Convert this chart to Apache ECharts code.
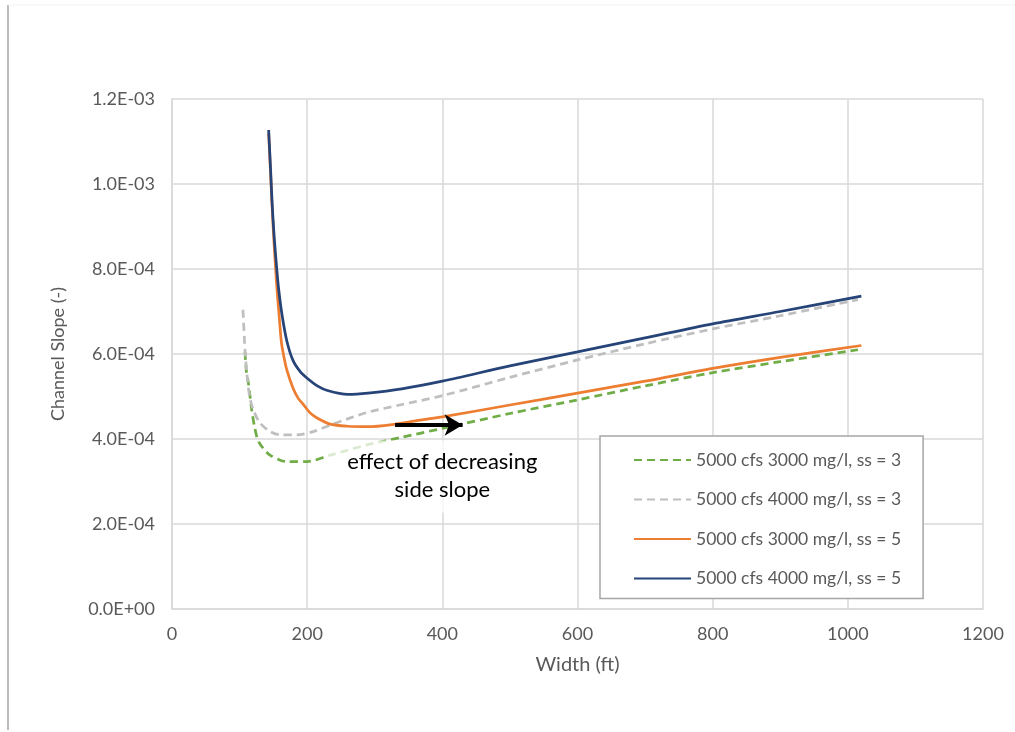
<!DOCTYPE html>
<html><head><meta charset="utf-8">
<script src="https://cdn.jsdelivr.net/npm/echarts@6/dist/echarts.min.js"></script>
<style>html,body{margin:0;padding:0;background:#fff}#c{width:1015px;height:732px}</style>
</head><body><div id="c"></div>
<script>
// Series names
const seriesNames = [
  '5000 cfs 3000 mg/l, ss = 3',
  '5000 cfs 4000 mg/l, ss = 3',
  '5000 cfs 3000 mg/l, ss = 5',
  '5000 cfs 4000 mg/l, ss = 5'
];
// Green dashed: 3000 mg/l, ss=3
const greenW = [108,110,113,118,122,127,135,145,160,170,200,234,288,337,400,500,600,700,800,900,1015];
const greenS = [6.05e-4,5.6e-4,5.32e-4,4.68e-4,4.3e-4,3.98e-4,3.78e-4,3.62e-4,3.5e-4,3.47e-4,3.47e-4,3.62e-4,3.86e-4,4.03e-4,4.25e-4,4.6e-4,4.92e-4,5.25e-4,5.56e-4,5.82e-4,6.1e-4];
// Gray dashed: 4000 mg/l, ss=3
const grayW = [105,107,108,111,115,120,130,145,160,185,210,238,288,337,400,500,600,700,800,900,1015];
const grayS = [7.04e-4,6.4e-4,6.09e-4,5.5e-4,4.99e-4,4.7e-4,4.38e-4,4.18e-4,4.1e-4,4.1e-4,4.18e-4,4.35e-4,4.62e-4,4.8e-4,5.02e-4,5.45e-4,5.86e-4,6.24e-4,6.59e-4,6.9e-4,7.28e-4];
// Orange solid: 3000 mg/l, ss=5
const orangeW = [143,146,148,151,155,158,162,166,170,179,187,194,204,214,234,260,290,330,370,400,500,600,700,800,900,1020];
const orangeS = [1.12e-3,1.02e-3,9.5e-4,8.6e-4,7.6e-4,7.0e-4,6.26e-4,5.9e-4,5.62e-4,5.2e-4,4.95e-4,4.82e-4,4.62e-4,4.5e-4,4.35e-4,4.3e-4,4.29e-4,4.35e-4,4.45e-4,4.52e-4,4.8e-4,5.08e-4,5.36e-4,5.66e-4,5.92e-4,6.2e-4];
// Blue solid: 4000 mg/l, ss=5
const blueW = [143,146,148,151,155,158,163,170,179,190,200,215,230,260,290,340,400,500,600,700,800,900,1020];
const blueS = [1.127e-3,1.03e-3,9.6e-4,8.8e-4,8.0e-4,7.5e-4,6.9e-4,6.3e-4,5.85e-4,5.58e-4,5.43e-4,5.25e-4,5.14e-4,5.05e-4,5.08e-4,5.18e-4,5.36e-4,5.72e-4,6.05e-4,6.38e-4,6.71e-4,7.0e-4,7.36e-4];
// Axis ticks
const xTicks = [0,200,400,600,800,1000,1200];
const yTicks = [0,2e-4,4e-4,6e-4,8e-4,1e-3,1.2e-3];
// Annotation
const annotText = 'effect of decreasing\nside slope';
const arrowFrom = [330, 4.33e-4];
const arrowTo = [430, 4.33e-4];
const annotCenter = [400, 3.12e-4];

function zip(a,b){return a.map((v,i)=>[v,b[i]]);}
function fmtE(v){
  if (v === 0) return '0.0E+00';
  let s = v.toExponential(1); let [m,e] = s.split('e');
  let n = parseInt(e,10); let sign = n<0?'-':'+'; n=Math.abs(n);
  return m + 'E' + sign + (n<10?'0':'') + n;
}
const font = 'Lato, "Open Sans", sans-serif';
const txt = '#595959';
const grid = '#d9d9d9';
const chart = echarts.init(document.getElementById('c'));
const colors = ['#70AD47','#BFBFBF','#ED7D31','#264478'];
const dataSets = [zip(greenW,greenS), zip(grayW,grayS), zip(orangeW,orangeS), zip(blueW,blueS)];
const series = seriesNames.map((n,i)=>({
  name:n, type:'line', data:dataSets[i], symbol:'none', smooth:0.3,
  lineStyle:{color:colors[i], width:2.75, type: i<2 ? [8,5] : 'solid'},
  itemStyle:{color:colors[i]}, z: 2+i
}));
series[2].markLine = {
  silent:true, symbol:['none','arrow'], symbolSize:[16,18],
  label:{show:false},
  lineStyle:{color:'#000', width:4, type:'solid'},
  data:[[{coord:arrowFrom},{coord:arrowTo}]], z:10
};
chart.setOption({
  animation:false,
  backgroundColor:'#fff',
  grid:{left:172, right:32, top:99, bottom:123, containLabel:false},
  xAxis:{type:'value', min:0, max:1200, interval:200,
    name:'Width (ft)', nameLocation:'middle', nameGap:46,
    nameTextStyle:{color:txt, fontSize:20, fontFamily:font},
    axisLine:{show:true, lineStyle:{color:grid, width:1.5}},
    axisTick:{show:false},
    axisLabel:{color:txt, fontSize:18, fontFamily:font, margin:16, formatter:v=>String(v)},
    splitLine:{show:true, lineStyle:{color:grid, width:1.5}}},
  yAxis:{type:'value', min:0, max:1.2e-3, interval:2e-4,
    name:'Channel Slope (-)', nameLocation:'middle', nameGap:105,
    nameTextStyle:{color:txt, fontSize:18, fontFamily:font},
    axisLine:{show:true, lineStyle:{color:grid, width:1.5}},
    axisTick:{show:false},
    axisLabel:{color:txt, fontSize:18, fontFamily:font, margin:17, formatter:fmtE},
    splitLine:{show:true, lineStyle:{color:grid, width:1.5}}},
  legend:{orient:'vertical', left:600, top:436, itemWidth:57, itemHeight:14, itemGap:21.5,
    padding:[15,22,11,33], backgroundColor:'#fff', borderColor:'#a6a6a6', borderWidth:1.5,
    itemStyle:{opacity:0, borderWidth:0},
    textStyle:{color:txt, fontSize:17.5, fontFamily:font}, data:seriesNames},
  series:series
});
const c = chart.convertToPixel({gridIndex:0}, annotCenter);
chart.setOption({graphic:[
  {type:'line', shape:{x1:8,y1:5,x2:8,y2:730}, style:{stroke:'#a6a6a6', lineWidth:1.5}, silent:true},
  {type:'line', shape:{x1:8,y1:5,x2:1015,y2:5}, style:{stroke:'#f2f2f2', lineWidth:1}, silent:true},
  {type:'rect', shape:{x:c[0]-115, y:c[1]-36, width:228, height:72}, style:{fill:'rgba(255,255,255,0.75)'}, z:20, silent:true},
  {type:'text', x:c[0], y:c[1], z:21, silent:true,
   style:{text:annotText, fill:'#000', font:'22px '+font, align:'center', verticalAlign:'middle', lineHeight:28}}
]});
</script></body></html>
